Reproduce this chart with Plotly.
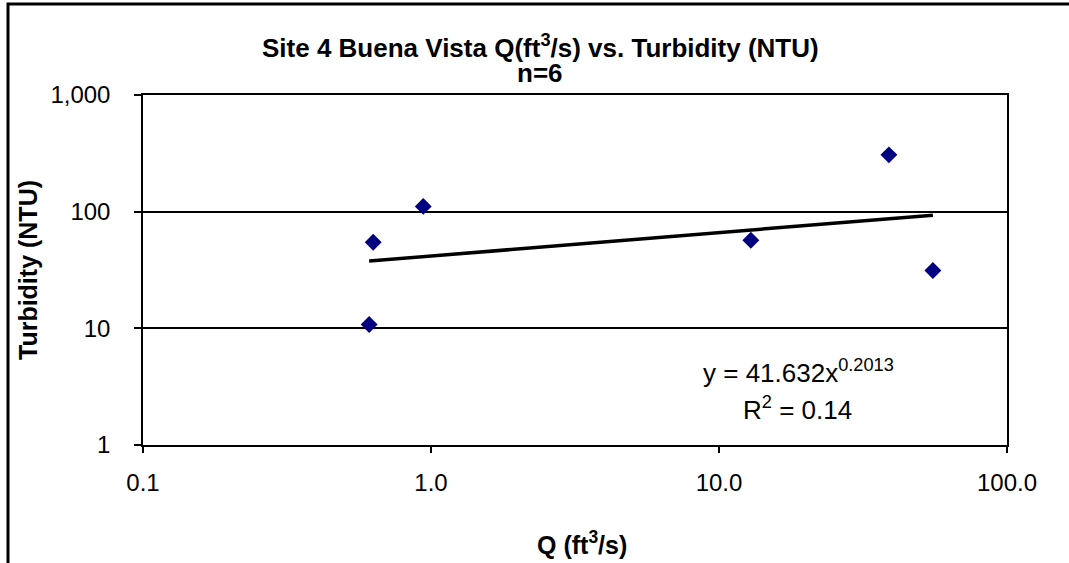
import plotly.graph_objects as go

# Discharge (ft^3/s) and turbidity (NTU) samples at Site 4
discharge = [0.61, 0.63, 0.94, 12.9, 38.9, 55.3]
turbidity = [10.8, 54.7, 111, 56.9, 307, 31.3]

# Power-law fit reported on the chart
coef_a = 41.632
coef_b = 0.2013
r_squared = 0.14

y_tickvals = [1, 10, 100, 1000]
y_ticktext = ["1", "10", "100", "1,000"]
x_tickvals = [0.1, 1, 10, 100]
x_ticktext = ["0.1", "1.0", "10.0", "100.0"]

fit_x = [min(discharge), max(discharge)]
fit_y = [coef_a * v ** coef_b for v in fit_x]

fig = go.Figure()
fig.add_trace(go.Scatter(
    x=fit_x, y=fit_y, mode="lines",
    line=dict(color="black", width=3.5), showlegend=False, hoverinfo="skip"))
fig.add_trace(go.Scatter(
    x=discharge, y=turbidity, mode="markers",
    marker=dict(symbol="diamond", size=13, color="#000080"),
    showlegend=False))

font_family = "Liberation Sans, Arial, sans-serif"

# plot area spans 864 x 350 px; helpers to place text by pixel
def px_x(px):
    return (px - 143) / 864

def px_y(py):
    return (445 - py) / 350

fig.update_layout(
    width=1069, height=563,
    margin=dict(l=143, r=62, t=95, b=118),
    paper_bgcolor="white", plot_bgcolor="white",
    font=dict(family=font_family, color="black", size=24),
    xaxis=dict(
        type="log", range=[-1, 2], automargin=False,
        tickvals=x_tickvals, ticktext=x_ticktext,
        showgrid=False, zeroline=False,
        showline=True, linecolor="black", linewidth=1.5, mirror=True,
        ticks="outside", ticklen=6, tickcolor="black", tickwidth=1.5,
        tickfont=dict(size=24), ticklabelstandoff=9,
    ),
    yaxis=dict(
        type="log", range=[0, 3], automargin=False,
        tickvals=y_tickvals, ticktext=y_ticktext,
        showgrid=True, gridcolor="black", gridwidth=1.5,
        zeroline=False,
        showline=True, linecolor="black", linewidth=1.5, mirror=True,
        ticks="outside", ticklen=7, tickcolor="black", tickwidth=1.5,
        tickfont=dict(size=24), ticklabelstandoff=19,
        title=dict(text="<b>Turbidity (NTU)</b>", font=dict(size=25), standoff=6),
    ),
    annotations=[
        dict(text="<b>Site 4 Buena Vista Q(ft<sup>3</sup>/s) vs. Turbidity (NTU)</b>",
             x=px_x(540), y=px_y(46), xref="paper", yref="paper",
             showarrow=False, font=dict(size=26), xanchor="center", yanchor="middle"),
        dict(text="<b>n=6</b>",
             x=px_x(540), y=px_y(73), xref="paper", yref="paper",
             showarrow=False, font=dict(size=26), xanchor="center", yanchor="middle"),
        dict(text="<b>Q (ft<sup>3</sup>/s)</b>",
             x=px_x(582), y=px_y(543), xref="paper", yref="paper",
             showarrow=False, font=dict(size=25), xanchor="center", yanchor="middle"),
        dict(text=f"y = {coef_a}x<sup>{coef_b}</sup>", x=px_x(798), y=px_y(371),
             xref="paper", yref="paper", showarrow=False, font=dict(size=26),
             xanchor="center", yanchor="middle"),
        dict(text=f"R<sup>2</sup> = {r_squared}", x=px_x(797), y=px_y(408),
             xref="paper", yref="paper", showarrow=False, font=dict(size=26),
             xanchor="center", yanchor="middle"),
    ],
    shapes=[
        # outer chart frame
        dict(type="rect", xref="paper", yref="paper",
             x0=px_x(8), x1=px_x(1080), y0=px_y(580), y1=px_y(4),
             line=dict(color="black", width=3), fillcolor="rgba(0,0,0,0)",
             layer="below"),
    ],
)

fig.write_html("out.html")
